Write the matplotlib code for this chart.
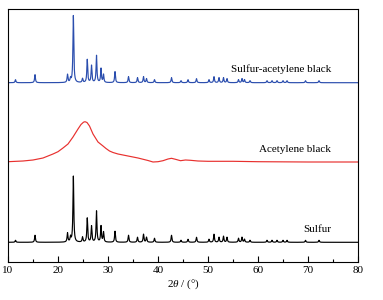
import matplotlib.pyplot as plt
import numpy as np

plt.rcParams['font.family'] = ['Liberation Serif', 'DejaVu Serif']
plt.rcParams['mathtext.fontset'] = 'custom'
plt.rcParams['mathtext.it'] = 'Liberation Serif:italic'
plt.rcParams['mathtext.rm'] = 'Liberation Serif'

# peak positions (2theta) and heights for sulfur and sulfur-acetylene black
sulfur_pos = [11.5, 15.4, 21.9, 22.5, 23.07, 24.9, 25.85, 26.7, 27.7, 28.6, 29.1,
              31.4, 34.1, 35.9, 37.1, 37.7, 39.3, 42.7, 44.6, 46.0, 47.7, 50.2,
              51.2, 52.2, 53.1, 53.8, 56.1, 56.8, 57.3, 58.4, 61.8, 62.8, 63.8,
              65.0, 65.8, 69.5, 72.2]
sulfur_h = [2, 7, 9, 5, 66, 5, 24, 16, 31, 16, 10,
            11, 7, 5, 8, 5, 4, 7, 2, 3, 5, 3,
            8, 5, 6, 5, 4, 5, 3, 2, 2, 2, 2,
            2, 2, 2, 2]
composite_h = [3, 8, 8, 4, 67, 4, 23, 17, 27, 14, 8,
               11, 6, 5, 6, 4, 3, 5, 2, 3, 4, 3,
               6, 5, 5, 4, 3, 4, 3, 2, 2, 2, 2,
               2, 2, 2, 2]

# acetylene black amorphous hump
ab_x = [10, 13, 15, 17, 18, 19, 20, 21, 22, 23, 24, 24.6, 25.1, 25.4, 25.8, 26.3,
        27, 28, 29, 29.6, 30.3, 31, 32, 34, 36, 38, 39, 40, 41, 42, 42.7, 43.5,
        44.5, 45.5, 46.5, 48, 50, 55, 60, 70, 80]
ab_y = [100.3, 101, 102, 104, 106, 108, 110.3, 114, 118, 125, 133, 137.5, 139.8,
        140.3, 139.5, 136, 128, 120, 116, 113.5, 111, 109.5, 108, 106, 104, 101.5,
        100, 100.3, 101.3, 103, 103.7, 102.7, 101.3, 102, 101.7, 101, 100.7, 100.7,
        100.3, 100, 100]

offsets = {'Sulfur': 19.7, 'Sulfur-acetylene black': 179.3}


def pattern(x, pos, h, w=0.1):
    y = np.zeros_like(x)
    for p, a in zip(pos, h):
        y += a / (1 + ((x - p) / w) ** 2)
    return y


x = np.linspace(10, 80, 7000)

fig = plt.figure(figsize=(3.83, 3.0), dpi=100)
ax = fig.add_axes([8 / 383, 38 / 300, 350 / 383, 253 / 300])

ax.plot(x, offsets['Sulfur-acetylene black'] + pattern(x, sulfur_pos, composite_h),
        color='#2b4eae', lw=0.85)
ax.plot(ab_x, ab_y, color='#e8302e', lw=0.85)
ax.plot(x, offsets['Sulfur'] + pattern(x, sulfur_pos, sulfur_h), color='black', lw=0.85)

ax.text(74.6, 193, 'Sulfur-acetylene black', ha='right', va='center', fontsize=8)
ax.text(74.6, 113, 'Acetylene black', ha='right', va='center', fontsize=8)
ax.text(74.6, 32, 'Sulfur', ha='right', va='center', fontsize=8)

ax.set_xlim(10, 80)
ax.set_ylim(0, 253)
ax.set_xticks(np.arange(10, 81, 10))
ax.set_xticks(np.arange(15, 80, 10), minor=True)
ax.set_yticks([])
ax.tick_params(axis='x', which='major', direction='in', length=4, width=0.8,
               labelsize=8, pad=3)
ax.tick_params(axis='x', which='minor', direction='in', length=2.5, width=0.8)
for s in ax.spines.values():
    s.set_linewidth(0.8)
ax.set_xlabel(r'2$\mathit{\theta}$ / (°)', fontsize=8, labelpad=2)

fig.savefig('out.png', dpi=100)
